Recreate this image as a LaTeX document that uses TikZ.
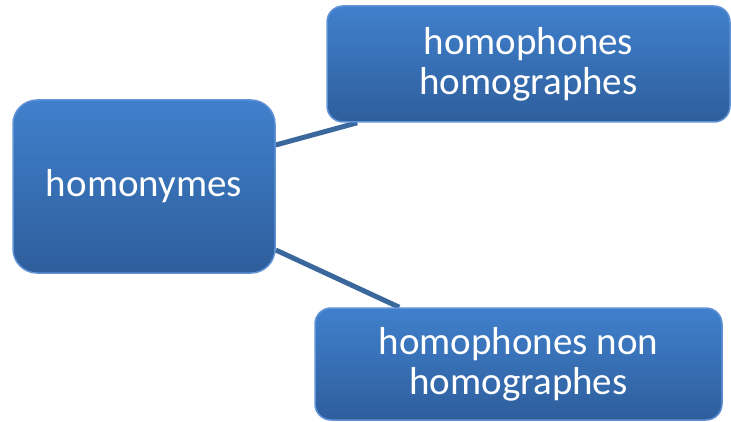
\documentclass[tikz,border=0pt]{standalone}
\usepackage{fontspec}
\setmainfont{Carlito}
\usepackage{xcolor}
\usetikzlibrary{positioning,backgrounds}

\definecolor{boxtop}{RGB}{64,128,204}
\definecolor{boxbot}{RGB}{46,94,156}
\definecolor{boxedge}{RGB}{98,146,214}
\definecolor{linkcol}{RGB}{58,104,156}

\begin{document}
\begin{tikzpicture}[
    x=1pt, y=-1pt,
    every node/.style={font=\fontsize{39}{40}\selectfont, text=white},
    mainbox/.style={draw=boxedge, line width=1.5pt, rounded corners=24pt,
                    top color=boxtop, bottom color=boxbot, align=center,
                    inner sep=0pt, minimum width=262pt, minimum height=173pt},
    leafbox/.style={draw=boxedge, line width=1.5pt, rounded corners=16pt,
                    top color=boxtop, bottom color=boxbot, align=center,
                    inner sep=0pt},
    link/.style={draw=linkcol, line width=5pt},
]
\useasboundingbox (0,0) rectangle (731,422);

% Root and the two branches
\node[mainbox] (hom)       at (144,186.5) {homonymes};
\node[leafbox, minimum width=403pt, minimum height=116pt] (homog)    at (528.5,64) {homophones\\homographes};
\node[leafbox, minimum width=407pt, minimum height=112pt] (nonhomog) at (518.5,364) {homophones non\\homographes};

% Connectors
\begin{scope}[on background layer]
\draw[link] ([yshift=41.5pt]hom.east)  -- ([xshift=31pt]homog.south west);
\draw[link] ([yshift=-63.5pt]hom.east) -- ([xshift=85pt]nonhomog.north west);
\end{scope}
\end{tikzpicture}
\end{document}
